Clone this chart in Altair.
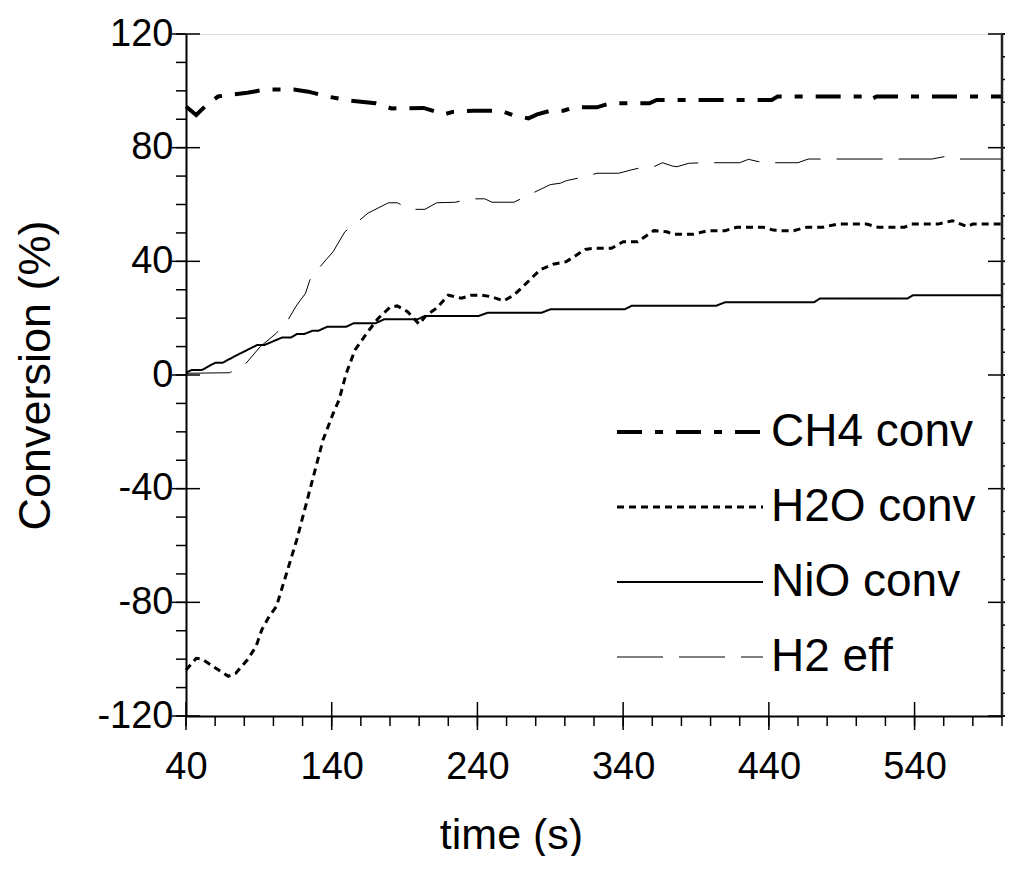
import altair as alt
import pandas as pd

series_names = ["CH4 conv", "H2O conv", "NiO conv", "H2 eff"]

ch4_t = [40, 47, 55, 62, 68, 82, 95, 114, 124, 137, 153, 170, 181, 203, 208, 217, 223, 237, 256, 264, 275, 281, 290, 299, 306, 322, 331, 358, 363, 442, 446, 505, 509, 514, 600]
ch4_v = [94.5, 91.5, 95.5, 98, 98.5, 99.3, 100.5, 100.5, 99.7, 98, 96.5, 95.6, 93.8, 94, 93.2, 91.7, 92.6, 93, 93, 91.5, 90.3, 91.7, 93, 93, 94.2, 94.2, 95.6, 95.6, 96.8, 96.8, 98, 98, 96.8, 98, 98]

h2o_t = [40, 47, 51, 57, 69, 74, 82, 88, 92, 97, 102, 109, 116, 122, 128, 134, 141, 145, 150, 156, 164, 172, 180, 185, 192, 200, 205, 212, 220, 229, 236, 243, 250, 258, 265, 270, 277, 283, 292, 301, 314, 320, 332, 340, 350, 361, 370, 374, 388, 398, 410, 418, 436, 443, 448, 457, 466, 477, 487, 507, 515, 533, 538, 556, 566, 576, 580, 600]
h2o_v = [-103.8, -99.7, -100, -102, -106, -105, -100.3, -95.6, -89.7, -85, -81.5, -69.8, -58, -46.3, -34.6, -22.9, -13.5, -8.8, 0.6, 8.8, 14.7, 20, 23.8, 24.3, 22.3, 17.9, 21.1, 23.5, 28.1, 27, 28.1, 28.1, 27.5, 26.1, 28.1, 30.5, 34, 37, 39, 39.9, 44.2, 44.6, 44.6, 46.9, 46.9, 50.8, 50.4, 49.5, 49.5, 50.8, 50.8, 52, 52, 51, 50.8, 50.8, 52, 52, 53.1, 53.1, 52, 52, 53.1, 53.1, 54.3, 52.2, 53.1, 53.1]

nio_t = [40, 44, 51, 60, 65, 75, 89, 94, 106, 112, 116, 121, 127, 131, 137, 150, 155, 170, 176, 199, 204, 241, 247, 284, 290, 341, 346, 404, 410, 471, 475, 535, 539, 600]
nio_v = [0.8, 1.8, 1.8, 4.3, 4.3, 7, 10.6, 10.6, 13.2, 13.2, 14.4, 14.4, 15.6, 15.6, 17, 17, 18.2, 18.2, 19.6, 19.6, 20.8, 20.8, 21.9, 21.9, 23.1, 23.1, 24.4, 24.4, 25.6, 25.6, 26.9, 26.9, 28.1, 28.1]

h2_t = [40, 70, 81, 91, 102, 110, 116, 122, 125, 131, 136, 141, 149, 158, 165, 179, 185, 194, 204, 212, 225, 235, 245, 250, 265, 275, 290, 297, 301, 314, 322, 337, 345, 355, 361, 367, 374, 377, 385, 395, 420, 426, 436, 460, 467, 552, 562, 567, 570, 600]
h2_v = [0.6, 0.8, 4, 10, 14.7, 19.4, 24.6, 28.7, 33.4, 37.5, 40.5, 43.4, 50.4, 54, 57, 60.6, 60.6, 58.3, 58.3, 60.6, 60.8, 62, 62, 60.8, 60.8, 63.3, 67, 67.5, 68.4, 69.8, 71, 71, 72.1, 73.3, 73.3, 74.7, 73.5, 73.3, 74.5, 74.7, 74.7, 75.9, 74.7, 74.7, 76, 76, 77, 76.5, 76, 76]

x_labels = [40, 140, 240, 340, 440, 540]
x_minor = list(range(40, 601, 20))
y_labels = [-120, -80, -40, 0, 40, 80, 120]
y_minor_left = list(range(-120, 121, 10))
y_minor_right = list(range(-120, 121, 8))

W, H = 816, 682
FONT = "Liberation Sans"

rows = []
for name, ts, vs in [("CH4 conv", ch4_t, ch4_v), ("H2O conv", h2o_t, h2o_v),
                     ("NiO conv", nio_t, nio_v), ("H2 eff", h2_t, h2_v)]:
    for i, (t, v) in enumerate(zip(ts, vs)):
        rows.append({"series": name, "t": t, "v": v, "order": i})
df = pd.DataFrame(rows)

xscale = alt.Scale(domain=[40, 600], nice=False, zero=False)
yscale = alt.Scale(domain=[-120, 120], nice=False, zero=False)

x_axis = alt.Axis(values=x_labels, ticks=False, grid=False, domain=True,
                  domainColor="black", domainWidth=2, labelFlush=False,
                  labelExpr="toString(datum.value)",
                  labelFont=FONT, labelFontSize=38, labelColor="black",
                  labelPadding=32, title="time (s)", titleFont=FONT,
                  titleFontSize=43, titleFontWeight="normal",
                  titleColor="black", titlePadding=28,
                  titleX=325, titleAlign="center")
y_axis = alt.Axis(values=y_labels, ticks=False, grid=False, domain=True,
                  domainColor="black", domainWidth=2, labelFlush=False,
                  labelExpr="toString(datum.value)",
                  labelFont=FONT, labelFontSize=38, labelColor="black",
                  labelPadding=13, title="Conversion (%)", titleFont=FONT,
                  titleFontSize=45, titleFontWeight="normal",
                  titleColor="black", titlePadding=38)

legend = alt.Legend(
    title=None, orient="none", legendX=429, legendY=368,
    symbolType="stroke", symbolSize=21316, symbolStrokeColor="black",
    labelFont=FONT, labelFontSize=46, labelColor="black", labelOffset=6,
    rowPadding=15, clipHeight=60, labelLimit=400,
)

lines = alt.Chart(df).mark_line(color="black", strokeCap="butt").encode(
    x=alt.X("t:Q", scale=xscale, axis=x_axis, title="time (s)"),
    y=alt.Y("v:Q", scale=yscale, axis=y_axis, title="Conversion (%)"),
    detail="series:N",
    order="order:Q",
    strokeDash=alt.StrokeDash("series:N", scale=alt.Scale(
        domain=series_names, range=[[25, 13, 8, 13], [7, 5], [1, 0], [46, 16]]),
        legend=legend, sort=series_names),
    strokeWidth=alt.StrokeWidth("series:N", scale=alt.Scale(
        domain=series_names, range=[4, 1, 1, 1]), legend=legend, sort=series_names),
)

def ticks_y(values, x1, x2, sw=1.5):
    return alt.Chart(pd.DataFrame({"v": values})).mark_rule(color="black", strokeWidth=sw).encode(
        y=alt.Y("v:Q", scale=yscale, axis=y_axis, title="Conversion (%)"),
        x=alt.value(x1), x2=alt.value(x2))

def ticks_x(values, y1, y2, sw=1.5):
    return alt.Chart(pd.DataFrame({"t": values})).mark_rule(color="black", strokeWidth=sw).encode(
        x=alt.X("t:Q", scale=xscale, axis=x_axis, title="time (s)"),
        y=alt.value(y1), y2=alt.value(y2))

right_border = alt.Chart(pd.DataFrame({"t": [600]})).mark_rule(color="#222222", strokeWidth=2.5).encode(
    x=alt.X("t:Q", scale=xscale, axis=x_axis, title="time (s)"),
    y=alt.value(0), y2=alt.value(H))

layers = [
    lines,
    ticks_y(y_minor_left, -10, 0),
    ticks_y(y_labels, -14, 14),
    ticks_y(y_minor_right, W, W + 11),
    ticks_y(y_labels, W - 14, W + 11),
    ticks_x(x_minor, H, H + 10),
    ticks_x(x_labels, H - 14, H + 14),
    right_border,
]

chart = alt.layer(*layers).properties(
    width=W, height=H,
    autosize=alt.AutoSizeParams(type="none"),
    padding={"left": 178, "top": 26, "right": 3, "bottom": 140},
).configure_view(stroke="#8c8c8c", strokeWidth=3).configure(background="white")

chart.save("out.html", embed_options={"renderer": "svg", "actions": False})
